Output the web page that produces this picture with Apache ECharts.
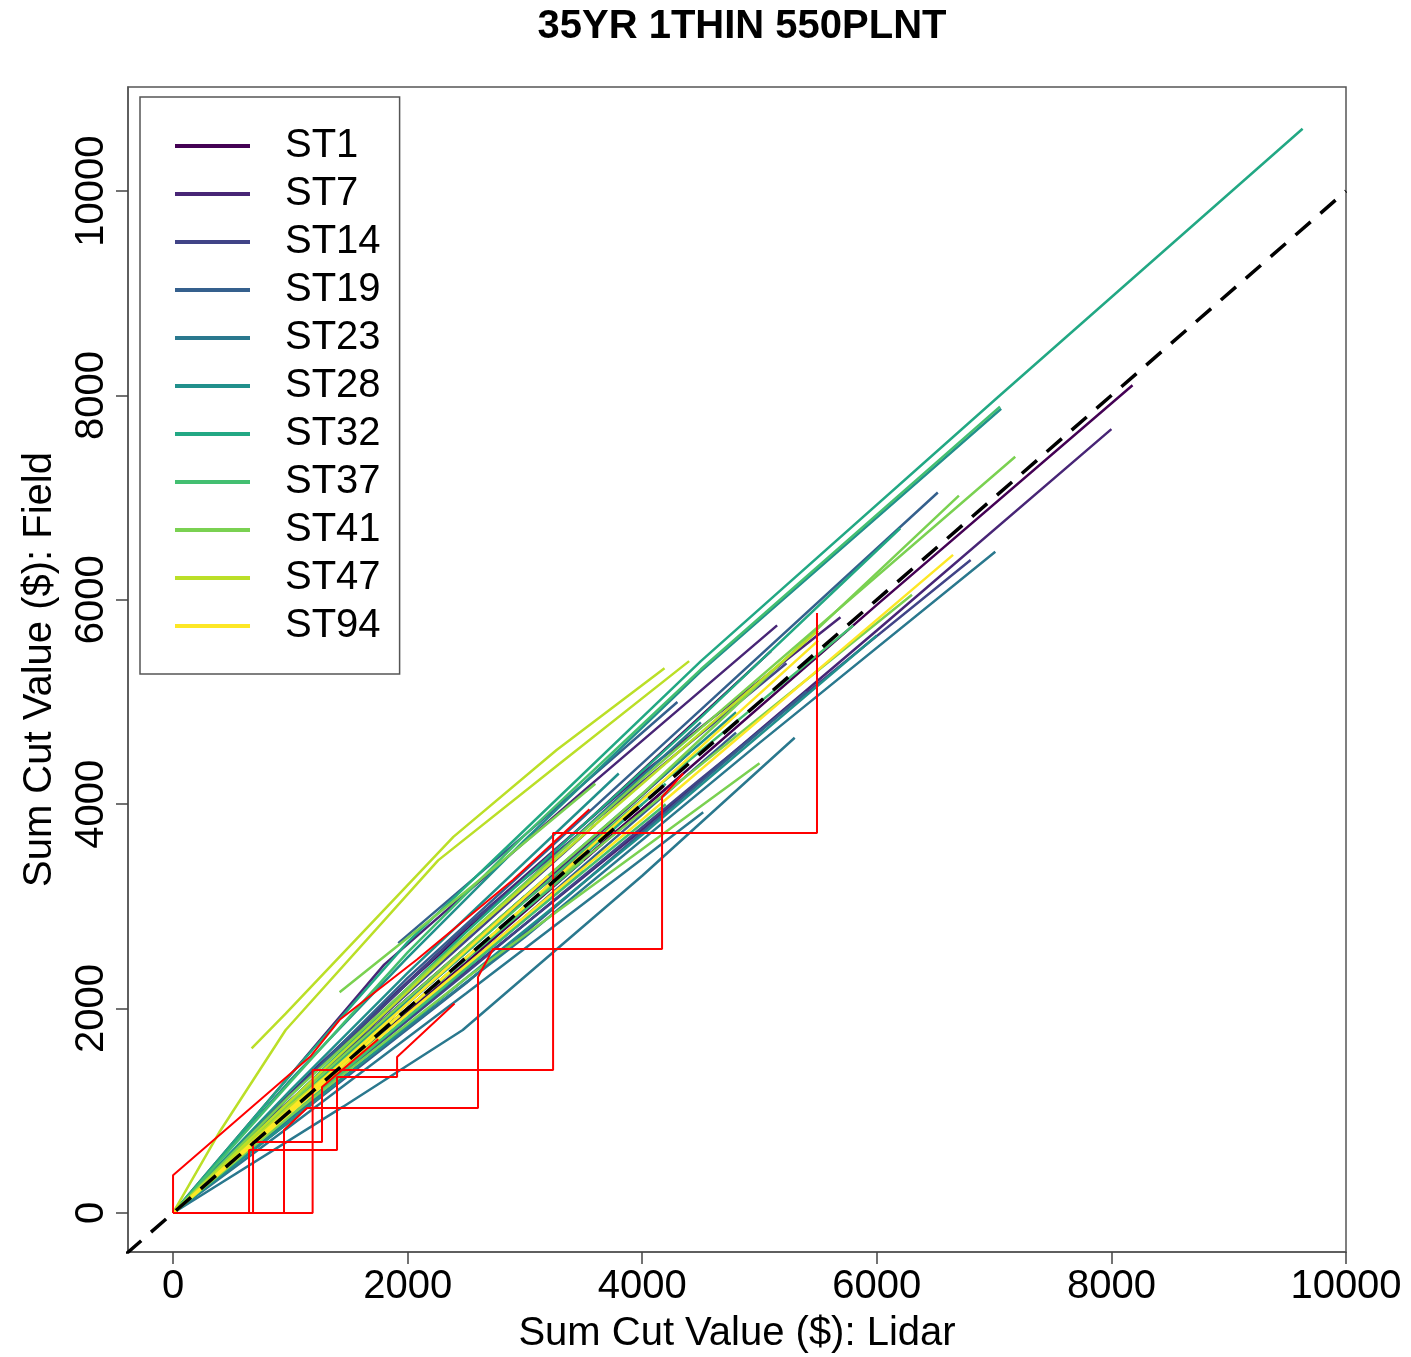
<!DOCTYPE html>
<html>
<head>
<meta charset="utf-8">
<title>35YR 1THIN 550PLNT</title>
<script src="https://cdn.jsdelivr.net/npm/echarts@6/dist/echarts.min.js"></script>
<style>
  html, body { margin: 0; padding: 0; background: #fff; }
  #chart { width: 1411px; height: 1357px; }
</style>
</head>
<body>
<div id="chart"></div>
<script>
// stands shown in the legend
const stands = ['ST1', 'ST7', 'ST14', 'ST19', 'ST23', 'ST28', 'ST32', 'ST37', 'ST41', 'ST47', 'ST94'];
// viridis(11)
const palette = ['#440154', '#482576', '#414487', '#35608D', '#2A788E', '#21908C',
                 '#22A884', '#43BF71', '#7AD151', '#BBDF27', '#FDE725'];

// cumulative [lidar, field] values, several runs per stand
const st1Lines = [
  [[0, 0], [1000, 1050], [2000, 2000], [4000, 3950], [6000, 5950], [8180, 8100]],
  [[0, 0], [1000, 1150], [2000, 2250], [3500, 3800], [5100, 5500]],
  [[0, 0], [1000, 1000], [2500, 2450], [4200, 4150]],
  [[0, 0], [800, 900], [1800, 1900], [3000, 3100]]
];
const st7Lines = [
  [[0, 0], [1800, 2430], [3500, 4130], [5150, 5750]],
  [[0, 0], [1000, 950], [2000, 1900], [4000, 3750], [6000, 5700], [8000, 7670]],
  [[0, 0], [1200, 1400], [2500, 2800], [4000, 4300], [5690, 5830]],
  [[0, 0], [1000, 1050], [2500, 2550], [4400, 4500]]
];
const st14Lines = [
  [[0, 0], [1000, 950], [2500, 2350], [4500, 4250], [6800, 6390]],
  [[0, 0], [1000, 1150], [2500, 2800], [5230, 5380]],
  [[0, 0], [1000, 1100], [2000, 2150], [3600, 3800]],
  [[0, 0], [900, 1000], [2200, 2300], [4000, 4000]]
];
const st19Lines = [
  [[0, 0], [1000, 1150], [2000, 2300], [4000, 4400], [6520, 7050]],
  [[0, 0], [1000, 900], [2500, 2250], [5400, 5100]],
  [[1920, 2640], [3000, 3700], [4300, 5000]],
  [[0, 0], [1000, 1000], [3000, 2900], [4800, 4700]]
];
const st23Lines = [
  [[0, 0], [1000, 850], [2500, 2150], [4520, 3920]],
  [[0, 0], [1000, 930], [3000, 2700], [5000, 4600], [7010, 6470]],
  [[0, 0], [1000, 1100], [2500, 2700], [4500, 4800]],
  [[0, 0], [1450, 1040], [2470, 1790], [4000, 3300], [5300, 4650]]
];
const st28Lines = [
  [[0, 0], [1000, 1300], [2000, 2500], [3000, 3650], [4500, 5300], [7060, 7870]],
  [[0, 0], [1000, 1050], [2500, 2600], [4800, 4900]],
  [[0, 0], [1000, 900], [2500, 2300], [4000, 3700], [6000, 5650]],
  [[0, 0], [1000, 1200], [2000, 2350], [3800, 4300]]
];
const st32Lines = [
  [[0, 0], [1000, 1350], [2000, 2650], [3000, 3750], [4500, 5400], [7000, 7950], [9630, 10610]],
  [[0, 0], [1000, 1100], [2500, 2750], [4500, 4850], [6200, 6700]],
  [[0, 0], [1000, 1000], [2500, 2500], [4200, 4200]],
  [[0, 0], [1000, 950], [2200, 2100], [3500, 3350]]
];
const st37Lines = [
  [[0, 0], [1000, 1280], [2000, 2550], [3000, 3700], [4500, 5320], [7050, 7890]],
  [[0, 0], [1000, 1050], [2500, 2550], [4000, 4050], [5800, 5750]],
  [[0, 0], [1000, 1000], [2000, 2000], [3500, 3450]],
  [[0, 0], [1000, 950], [2500, 2400], [4200, 4000]]
];
const st41Lines = [
  [[0, 0], [1000, 1150], [2000, 2200], [4000, 4250], [7180, 7400]],
  [[0, 0], [1000, 1080], [2000, 2100], [4000, 4100], [6700, 7020]],
  [[0, 0], [1000, 950], [2500, 2300], [5000, 4400]],
  [[1420, 2160], [2500, 3150], [3600, 4200]],
  [[0, 0], [1000, 1000], [3000, 3000], [6300, 6050]]
];
const st47Lines = [
  [[670, 1610], [960, 1950], [2390, 3680], [3270, 4530], [4190, 5330]],
  [[0, 0], [400, 800], [960, 1790], [2260, 3450], [3300, 4400], [4400, 5400]],
  [[0, 0], [1000, 1100], [2500, 2700], [4000, 4200], [5500, 5700]],
  [[0, 0], [1000, 1050], [2000, 2000], [3500, 3500]]
];
const st94Lines = [
  [[0, 0], [1000, 980], [2000, 1950], [4000, 3850], [6650, 6440]],
  [[0, 0], [1000, 1000], [3000, 3000], [5500, 5600]],
  [[0, 0], [1000, 1020], [2000, 2050], [3200, 3300]]
];
const standLines = [st1Lines, st7Lines, st14Lines, st19Lines, st23Lines, st28Lines,
                    st32Lines, st37Lines, st41Lines, st47Lines, st94Lines];

// red step runs
const redLines = [
  [[0, 0], [0, 370], [1170, 1530], [1420, 1890], [2080, 2480], [2900, 3260], [3550, 3950]],
  [[0, 0], [648, 0], [648, 616], [1398, 616], [1398, 1331], [1910, 1331], [1910, 1526], [2400, 2050]],
  [[0, 0], [682, 0], [682, 695], [1270, 695], [1270, 1233], [1750, 1700]],
  [[0, 0], [946, 0], [946, 812], [1142, 1027], [2600, 1027], [2600, 2309], [2728, 2583],
   [4169, 2583], [4169, 4070], [4350, 4300]],
  [[0, 0], [1190, 0], [1190, 1399], [3240, 1399], [3240, 3718], [5490, 3718], [5490, 5871]]
];

// 1:1 reference line
const oneToOne = [[-400, -400], [10000, 10000]];
const tickValues = [0, 2000, 4000, 6000, 8000, 10000];

const FONT = '"Liberation Sans", Arial, sans-serif';

const chart = echarts.init(document.getElementById('chart'));

const series = [];
standLines.forEach((lines, i) => {
  lines.forEach(pts => {
    series.push({
      name: stands[i],
      type: 'line',
      data: pts,
      symbol: 'none',
      clip: true,
      color: palette[i],
      lineStyle: { color: palette[i], width: 2.5 },
      itemStyle: { color: palette[i] },
      emphasis: { disabled: true }
    });
  });
});
redLines.forEach(pts => {
  series.push({
    name: 'red',
    type: 'line',
    data: pts,
    symbol: 'none',
    clip: true,
    lineStyle: { color: '#FF0000', width: 2 },
    emphasis: { disabled: true },
    z: 3
  });
});
series.push({
  name: '1:1',
  type: 'line',
  data: oneToOne,
  symbol: 'none',
  clip: true,
  lineStyle: { color: '#000', width: 3.5, type: [20, 13] },
  emphasis: { disabled: true },
  z: 4
});

const plainNum = v => String(v);

const option = {
  animation: false,
  backgroundColor: '#fff',
  title: {
    text: '35YR 1THIN 550PLNT',
    left: 737,
    top: 2,
    textAlign: 'center',
    textStyle: { fontFamily: FONT, fontSize: 40, fontWeight: 'bold', color: '#000' }
  },
  legend: {
    data: stands,
    orient: 'vertical',
    left: 140,
    top: 97,
    padding: [25, 19, 24, 35],
    itemGap: 0,
    itemWidth: 75,
    itemHeight: 4,
    icon: 'rect',
    backgroundColor: '#fff',
    borderColor: '#555',
    borderWidth: 1.5,
    borderRadius: 0,
    selectedMode: false,
    textStyle: {
      fontFamily: FONT, fontSize: 40, color: '#000', lineHeight: 48,
      padding: [0, 0, 0, 30]
    },
    z: 10
  },
  grid: {
    left: 128, right: 65, top: 87, bottom: 105,
    show: true, borderColor: '#555', borderWidth: 1.5,
    outerBoundsMode: 'none'
  },
  xAxis: {
    type: 'value',
    min: -384,
    max: 10000,
    name: 'Sum Cut Value ($): Lidar',
    nameLocation: 'middle',
    nameGap: 62,
    nameTextStyle: { fontFamily: FONT, fontSize: 40, color: '#000' },
    splitLine: { show: false },
    axisLine: { show: true, onZero: false, lineStyle: { color: '#555', width: 1.5 } },
    axisTick: { show: true, inside: false, length: 12, customValues: tickValues,
                lineStyle: { color: '#444', width: 1.5 } },
    axisLabel: { customValues: tickValues, formatter: plainNum, fontFamily: FONT, fontSize: 40,
                 color: '#000', margin: 15 }
  },
  yAxis: {
    type: 'value',
    min: -382,
    max: 11018,
    name: 'Sum Cut Value ($): Field',
    nameLocation: 'middle',
    nameRotate: 90,
    nameGap: 68,
    nameTextStyle: { fontFamily: FONT, fontSize: 40, color: '#000' },
    splitLine: { show: false },
    axisLine: { show: true, onZero: false, lineStyle: { color: '#555', width: 1.5 } },
    axisTick: { show: true, inside: false, length: 12, customValues: tickValues,
                lineStyle: { color: '#444', width: 1.5 } },
    axisLabel: { customValues: tickValues, formatter: plainNum, rotate: 90, fontFamily: FONT,
                 fontSize: 40, color: '#000', margin: 16 }
  },
  series: series
};

chart.setOption(option);
</script>
</body>
</html>
